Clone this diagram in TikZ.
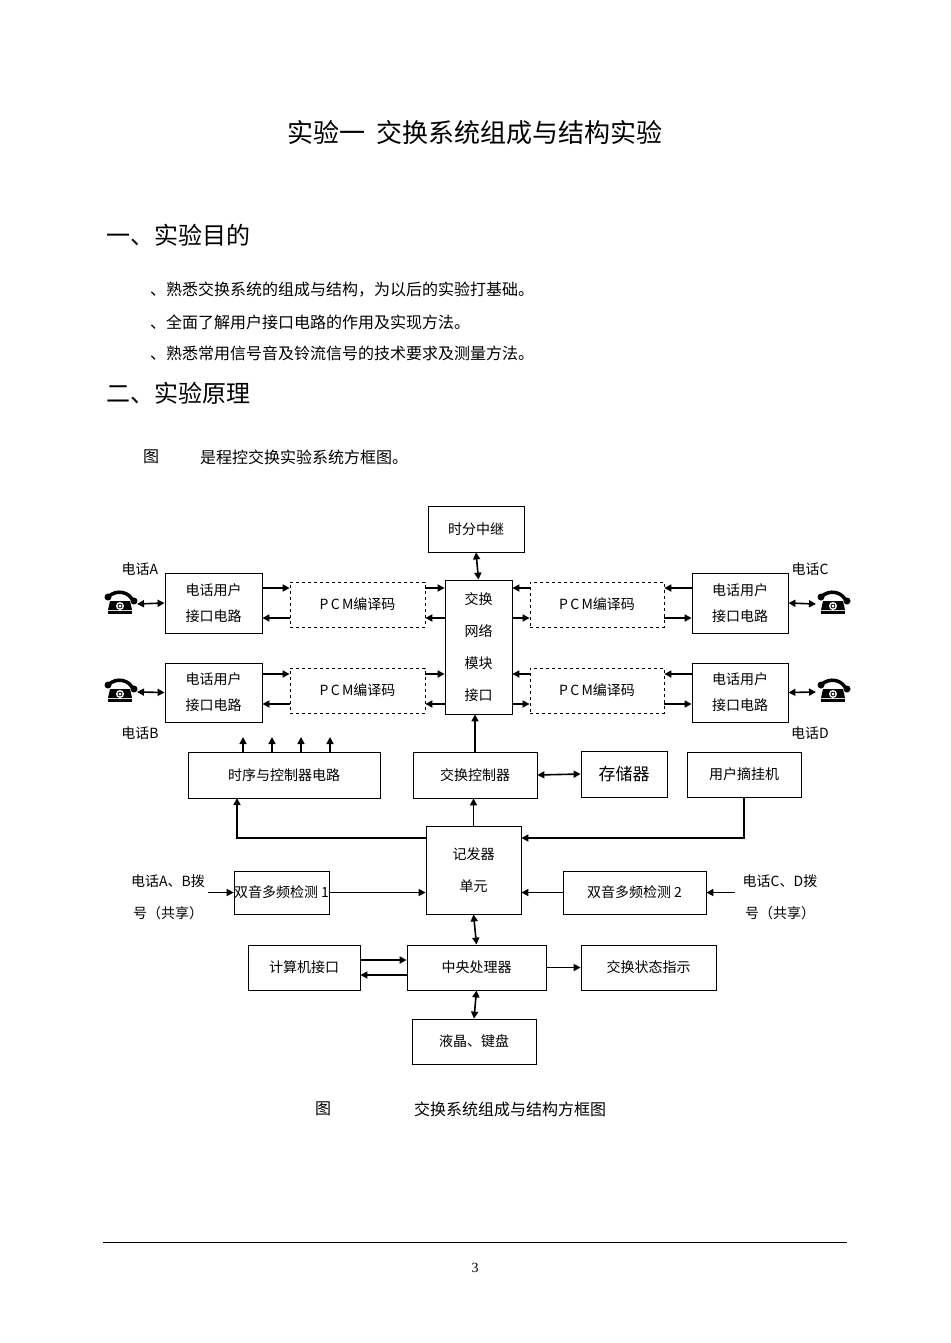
\documentclass[tikz,border=0pt]{standalone}
\usepackage{fontspec}
\setmainfont{Liberation Serif}
\newfontfamily\cjk{Noto Sans CJK SC}
\usetikzlibrary{arrows.meta}
\begin{document}
\begin{tikzpicture}[x=1pt,y=-1pt,
  box/.style={draw,thick,font=\cjk\fontsize{14}{18}\selectfont,inner sep=0},
  dbox/.style={box,dashed},
  ar/.style={-{Triangle[length=7pt,width=7pt]},line width=1.6pt},
  dar/.style={{Triangle[length=7pt,width=7pt]}-{Triangle[length=7pt,width=7pt]},line width=1.6pt},
  lbl/.style={font=\cjk\fontsize{14}{18}\selectfont,inner sep=0},
  txt/.style={font=\cjk\fontsize{16}{20}\selectfont,anchor=west,inner sep=0},
  phone/.pic={
    \fill (-12,6) rectangle (12,9);
    \fill (-10,-4) -- (10,-4) -- (12,5) -- (-12,5) -- cycle;
    \fill[white] (0,1) circle (4);
    \draw[line width=0.8pt] (0,1) circle (2);
    \draw[line width=4pt] (-14,-6) arc (180:360:0) ;
    \draw[line width=3.5pt] (-12,-8) .. controls (-4,-16) and (10,-14) .. (14,-2);
    \fill (14,-4) circle (3.5);
    \fill (-12,-8) circle (3.5);
  }]
\useasboundingbox (0,0) rectangle (950,1343);
\fill[white] (0,0) rectangle (950,1343);
% header text
\node[font=\cjk\fontsize{26}{30}\selectfont] (title) at (475,133) {实验一\ \ 交换系统组成与结构实验};
\node[font=\cjk\fontsize{24}{28}\selectfont,anchor=west] (h1) at (103,235) {一、实验目的};
\node[txt] (l1) at (150,290) {、熟悉交换系统的组成与结构，为以后的实验打基础。};
\node[txt] (l2) at (150,322) {、全面了解用户接口电路的作用及实现方法。};
\node[txt] (l3) at (150,353) {、熟悉常用信号音及铃流信号的技术要求及测量方法。};
\node[font=\cjk\fontsize{24}{28}\selectfont,anchor=west] (h2) at (103,393) {二、实验原理};
\node[txt] (p1) at (143,457) {图};
\node[txt] (p2) at (200,457) {是程控交换实验系统方框图。};
% boxes
\node[box,minimum width=96,minimum height=46] (tdm) at (476,529) {时分中继};
\node[box,minimum width=67,minimum height=134,align=center,font=\cjk\fontsize{14}{32}\selectfont] (sw) at (478.5,647) {交换\\网络\\模块\\接口};
\node[box,minimum width=97,minimum height=60,align=center,font=\cjk\fontsize{14}{26}\selectfont] (ua) at (213.5,603) {电话用户\\接口电路};
\node[box,minimum width=97,minimum height=59,align=center,font=\cjk\fontsize{14}{26}\selectfont] (ub) at (213.5,692.5) {电话用户\\接口电路};
\node[box,minimum width=96,minimum height=60,align=center,font=\cjk\fontsize{14}{26}\selectfont] (uc) at (740,603) {电话用户\\接口电路};
\node[box,minimum width=96,minimum height=59,align=center,font=\cjk\fontsize{14}{26}\selectfont] (ud) at (740,692.5) {电话用户\\接口电路};
\node[dbox,minimum width=135,minimum height=45] (pa) at (357.5,604.5) {P\,C\,M编译码};
\node[dbox,minimum width=135,minimum height=45] (pb) at (357.5,690.5) {P\,C\,M编译码};
\node[dbox,minimum width=134,minimum height=45] (pc) at (597,604.5) {P\,C\,M编译码};
\node[dbox,minimum width=134,minimum height=45] (pd) at (597,690.5) {P\,C\,M编译码};
\node[box,minimum width=192,minimum height=46] (tim) at (284,775) {时序与控制器电路};
\node[box,minimum width=124,minimum height=46] (swc) at (475,775) {交换控制器};
\node[box,minimum width=86,minimum height=46,font=\cjk\fontsize{17}{20}\selectfont] (mem) at (624,774) {存储器};
\node[box,minimum width=114,minimum height=45] (hook) at (744,774.5) {用户摘挂机};
\node[box,minimum width=95,minimum height=88,align=center,font=\cjk\fontsize{14}{32}\selectfont] (reg) at (473.5,870) {记发器\\单元};
\node[box,minimum width=89,minimum height=43] (dt1) at (281.5,892.5) {双音多频检测 1};
\node[box,minimum width=143,minimum height=43] (dt2) at (634.5,892.5) {双音多频检测 2};
\node[box,minimum width=139,minimum height=45] (cpu) at (476.5,967.5) {中央处理器};
\node[box,minimum width=112,minimum height=45] (pc1) at (304,967.5) {计算机接口};
\node[box,minimum width=135,minimum height=45] (st) at (648.5,967.5) {交换状态指示};
\node[box,minimum width=124,minimum height=45] (lcd) at (474,1041.5) {液晶、键盘};
% phones
\pic (phA) at (120,605) {phone};
\pic (phB) at (120,693) {phone};
\pic (phC) at (833,605) {phone};
\pic (phD) at (833,693) {phone};
\coordinate (pa1) at (137,604); \coordinate (pb1) at (137,692);
\coordinate (pc1c) at (816,604); \coordinate (pd1) at (816,692);
\node[lbl] (lA) at (140,569) {电话A};
\node[lbl] (lB) at (140,733) {电话B};
\node[lbl] (lC) at (810,569) {电话C};
\node[lbl] (lD) at (810,733) {电话D};
\draw[dar] (pa1) -- (ua.west);
\draw[dar] (pb1) -- (ub.west);
\draw[dar] (pc1c) -- (uc.east);
\draw[dar] (pd1) -- (ud.east);
% left chains
\foreach \u/\p/\y in {ua/pa/0,ub/pb/1}{
  \draw[ar] (\u.east|-0,{588+\y*86}) -- (\p.west|-0,{588+\y*86});
  \draw[ar] (\p.west|-0,{618+\y*86}) -- (\u.east|-0,{618+\y*86});
  \draw[ar] (\p.east|-0,{588+\y*86}) -- (sw.west|-0,{588+\y*86});
  \draw[ar] (sw.west|-0,{618+\y*86}) -- (\p.east|-0,{618+\y*86});
}
\foreach \u/\p/\y in {uc/pc/0,ud/pd/1}{
  \draw[ar] (\u.west|-0,{588+\y*86}) -- (\p.east|-0,{588+\y*86});
  \draw[ar] (\p.east|-0,{618+\y*86}) -- (\u.west|-0,{618+\y*86});
  \draw[ar] (\p.west|-0,{588+\y*86}) -- (sw.east|-0,{588+\y*86});
  \draw[ar] (sw.east|-0,{618+\y*86}) -- (\p.west|-0,{618+\y*86});
}
\draw[dar] (tdm.south) -- (sw.north);
\foreach \x in {243,272,301,330}{\coordinate (t\x) at (\x,737); \draw[ar] (\x,752) -- (t\x);}
\draw[ar] (swc.north) -- (swc.north|-sw.south);
\draw[dar] (swc.east) -- (mem.west);
\draw[ar] (reg.north) -- (reg.north|-swc.south);
\draw[ar] (reg.west|-0,838) -| (237,798);
\draw[ar] (hook.south) |- (reg.east|-0,838);
\draw[ar] (dt1.east) -- (reg.west|-dt1.east);
\draw[ar] (dt2.west) -- (reg.east|-dt2.west);
\coordinate (inA) at (208,892.5); \coordinate (inC) at (735,892.5);
\draw[ar] (inA) -- (dt1.west);
\draw[ar] (inC) -- (dt2.east);
\node[lbl,align=center,font=\cjk\fontsize{14}{32}\selectfont] (tA) at (168,897) {电话A、B拨\\号（共享）};
\node[lbl,align=center,font=\cjk\fontsize{14}{32}\selectfont] (tC) at (780,897) {电话C、D拨\\号（共享）};
\draw[dar] (reg.south) -- (cpu.north);
\draw[ar] (pc1.east|-0,960) -- (cpu.west|-0,960);
\draw[ar] (cpu.west|-0,975) -- (pc1.east|-0,975);
\draw[ar] (cpu.east) -- (st.west);
\draw[dar] (cpu.south) -- (lcd.north);
% caption & footer
\node[lbl,font=\cjk\fontsize{16}{20}\selectfont] (c1) at (323,1109) {图};
\node[lbl,font=\cjk\fontsize{16}{20}\selectfont] (c2) at (510,1109) {交换系统组成与结构方框图};
\draw[line width=1pt] (103,1242) -- (847,1242);
\node[font=\fontsize{14}{16}\selectfont] (pg) at (475,1268) {3};
\end{tikzpicture}
\end{document}
